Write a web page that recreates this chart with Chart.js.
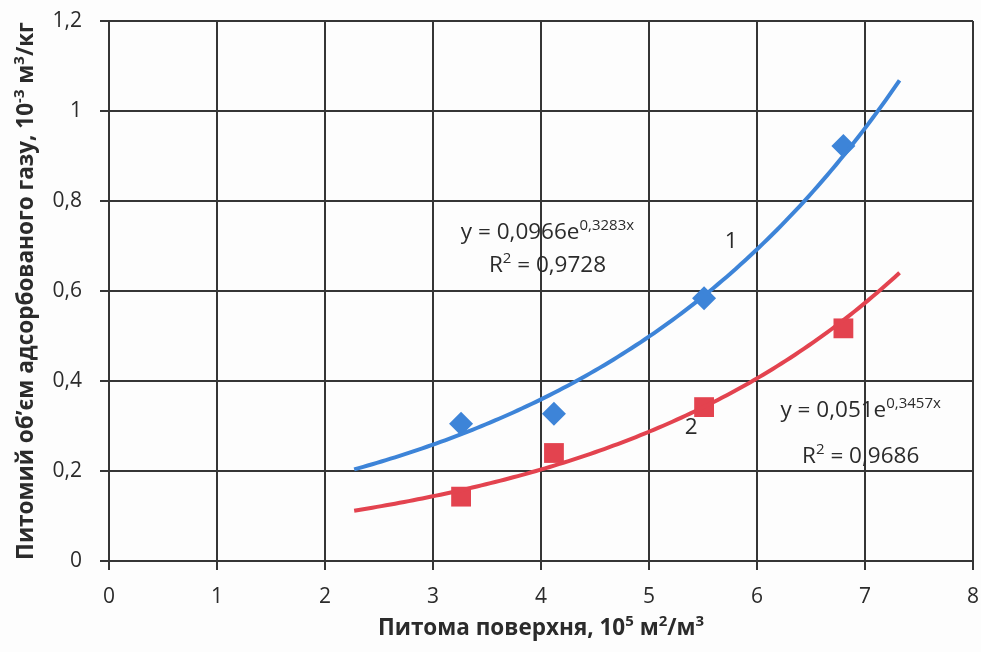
<!DOCTYPE html>
<html>
<head>
<meta charset="utf-8">
<script src="https://cdn.jsdelivr.net/npm/chart.js@4/dist/chart.umd.min.js"></script>
<style>
  html, body { margin: 0; padding: 0; background: #fdfdfd; }
  #wrap { width: 981px; height: 652px; }
</style>
</head>
<body>
<div id="wrap"><canvas id="c" width="981" height="652"></canvas></div>
<script>
// Specific surface area, 10^5 m²/m³
const surfaceArea = [3.26, 4.12, 5.51, 6.8];
// Specific volume of adsorbed gas, 10^-3 m³/kg
const volumeSample1 = [0.305, 0.327, 0.584, 0.922];
const volumeSample2 = [0.143, 0.24, 0.342, 0.517];

// Exponential fits y = a·e^(b·x)
const fitCoefA = [0.0966, 0.051];
const fitCoefB = [0.3283, 0.3457];
const fitR2 = [0.9728, 0.9686];
const fitRange = [2.27, 7.32];

const xTicks = [0, 1, 2, 3, 4, 5, 6, 7, 8];
const yTicks = [0, 0.2, 0.4, 0.6, 0.8, 1, 1.2];
const yTickLabels = ['0', '0,2', '0,4', '0,6', '0,8', '1', '1,2'];

const FONT = "'Open Sans', sans-serif";
const INK = '#2b2b2b';
const GRID = '#353535';
const BLUE = '#3d84d8';
const RED = '#e3434f';

const comma = v => String(v).replace('.', ',');

function fitCurve(a, b) {
  const pts = [];
  const n = 120;
  for (let i = 0; i <= n; i++) {
    const x = fitRange[0] + (fitRange[1] - fitRange[0]) * i / n;
    pts.push({ x: x, y: a * Math.exp(b * x) });
  }
  return pts;
}

const pairs = ys => surfaceArea.map((x, i) => ({ x: x, y: ys[i] }));

// Text with superscript segments
function drawRich(ctx, parts, x, y, align, size, weight) {
  const supSize = Math.round(size * 0.68);
  const f = p => `${weight} ${p.sup ? supSize : size}px ${FONT}`;
  let w = 0;
  parts.forEach(p => { ctx.font = f(p); p.w = ctx.measureText(p.t).width; w += p.w; });
  let cx = align === 'center' ? x - w / 2 : align === 'right' ? x - w : x;
  ctx.textAlign = 'left';
  ctx.textBaseline = 'alphabetic';
  parts.forEach(p => {
    ctx.font = f(p);
    ctx.fillText(p.t, cx, p.sup ? y - size * 0.40 : y);
    cx += p.w;
  });
}

// Equation / curve number placements, in axis units
const notes = [
  { x: 4.06, y: 0.716, parts: [{ t: 'y = ' + comma(fitCoefA[0]) + 'e' }, { t: comma(fitCoefB[0]) + 'x', sup: true }] },
  { x: 4.06, y: 0.642, parts: [{ t: 'R' }, { t: '2', sup: true }, { t: ' = ' + comma(fitR2[0]) }] },
  { x: 5.76, y: 0.695, parts: [{ t: '1' }] },
  { x: 6.96, y: 0.320, parts: [{ t: 'y = ' + comma(fitCoefA[1]) + 'e' }, { t: comma(fitCoefB[1]) + 'x', sup: true }] },
  { x: 6.96, y: 0.218, parts: [{ t: 'R' }, { t: '2', sup: true }, { t: ' = ' + comma(fitR2[1]) }] },
  { x: 5.39, y: 0.283, parts: [{ t: '2' }] }
];

const decorations = {
  id: 'decorations',
  beforeDraw(chart) {
    const ctx = chart.ctx;
    ctx.save();
    ctx.fillStyle = '#fdfdfd';
    ctx.fillRect(0, 0, chart.width, chart.height);
    ctx.restore();
  },
  afterDatasetsDraw(chart) {
    const ctx = chart.ctx;
    const xs = chart.scales.x, ys = chart.scales.y;
    const area = chart.chartArea;
    ctx.save();
    ctx.fillStyle = INK;
    notes.forEach(n => {
      drawRich(ctx, n.parts, xs.getPixelForValue(n.x), ys.getPixelForValue(n.y), 'center', 22.5, 'normal');
    });
    // x axis title
    drawRich(ctx, [
      { t: 'Питома поверхня, 10' }, { t: '5', sup: true },
      { t: ' м' }, { t: '2', sup: true }, { t: '/м' }, { t: '3', sup: true }
    ], (area.left + area.right) / 2, 635, 'center', 22.5, 'bold');
    // y axis title
    ctx.translate(33, (area.top + area.bottom) / 2);
    ctx.rotate(-Math.PI / 2);
    drawRich(ctx, [
      { t: 'Питомий об’єм адсорбованого газу, 10' }, { t: '-3', sup: true },
      { t: ' м' }, { t: '3', sup: true }, { t: '/кг' }
    ], 0, 0, 'center', 22.5, 'bold');
    ctx.restore();
  }
};

const noScalePadding = s => { s.paddingTop = 0; s.paddingBottom = 0; s.paddingLeft = 0; s.paddingRight = 0; };

new Chart(document.getElementById('c'), {
  type: 'scatter',
  data: {
    datasets: [
      {
        label: 'fit 1', data: fitCurve(fitCoefA[0], fitCoefB[0]), showLine: true,
        borderColor: BLUE, borderWidth: 4, pointRadius: 0, fill: false, tension: 0
      },
      {
        label: 'fit 2', data: fitCurve(fitCoefA[1], fitCoefB[1]), showLine: true,
        borderColor: RED, borderWidth: 4, pointRadius: 0, fill: false, tension: 0
      },
      {
        label: '1', data: pairs(volumeSample1), pointStyle: 'rectRot',
        pointRadius: 12, backgroundColor: BLUE, borderWidth: 0
      },
      {
        label: '2', data: pairs(volumeSample2), pointStyle: 'rect',
        pointRadius: 14, backgroundColor: RED, borderWidth: 0
      }
    ]
  },
  options: {
    responsive: false,
    animation: false,
    events: [],
    layout: { autoPadding: false, padding: { left: 0, top: 21, right: 8, bottom: 0 } },
    plugins: { legend: { display: false }, tooltip: { enabled: false } },
    scales: {
      x: {
        type: 'linear', min: 0, max: 8,
        afterBuildTicks: s => { s.ticks = xTicks.map(v => ({ value: v })); },
        afterFit: s => { s.height = 91; noScalePadding(s); },
        grid: { color: GRID, lineWidth: 2, tickLength: 9, tickColor: GRID, drawTicks: true },
        border: { color: GRID, width: 2 },
        ticks: { color: INK, font: { family: FONT, size: 21 }, padding: 14, maxRotation: 0,
                 callback: v => String(v) }
      },
      y: {
        type: 'linear', min: 0, max: 1.2,
        afterBuildTicks: s => { s.ticks = yTicks.map(v => ({ value: v })); },
        afterFit: s => { s.width = 109; noScalePadding(s); },
        grid: { color: GRID, lineWidth: 2, tickLength: 9, tickColor: GRID, drawTicks: true },
        border: { color: GRID, width: 2 },
        ticks: { color: INK, font: { family: FONT, size: 21 }, padding: 18,
                 callback: (v, i) => yTickLabels[i] }
      }
    }
  },
  plugins: [decorations]
});
</script>
</body>
</html>
